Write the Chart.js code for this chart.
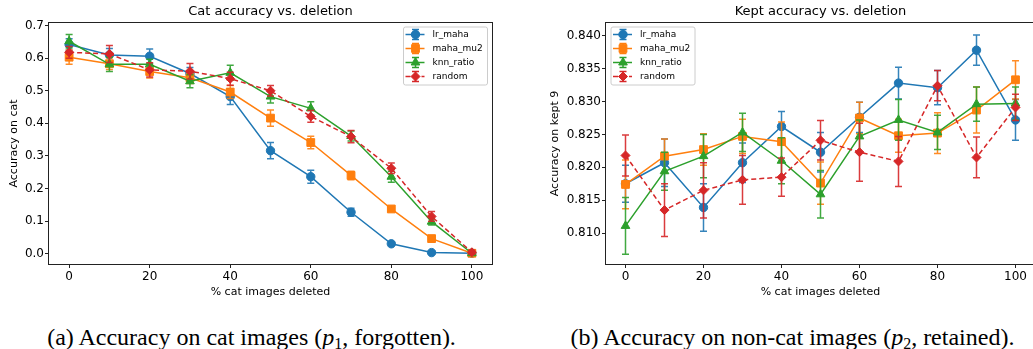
<!DOCTYPE html>
<html>
<head>
<meta charset="utf-8">
<script src="https://cdn.jsdelivr.net/npm/chart.js@4.4.0/dist/chart.umd.min.js"></script>
<style>
body{margin:0;width:1033px;height:349px;overflow:hidden;background:#fff;position:relative}
canvas{position:absolute;top:0}
#catChart{left:0}
#keptChart{left:540px}
.cap{position:absolute;top:325px;font-family:"Liberation Serif",serif;font-size:24px;line-height:24px;white-space:nowrap;transform:translateX(-50%);color:#000}
.cap sub{font-size:16px;vertical-align:-4px;line-height:0}
</style>
</head>
<body>
<canvas id="catChart" width="500" height="305"></canvas>
<canvas id="keptChart" width="495" height="305"></canvas>
<div class="cap" style="left:251.5px">(a) Accuracy on cat images (<i>p</i><sub>1</sub>, forgotten).</div>
<div class="cap" style="left:792.5px">(b) Accuracy on non-cat images (<i>p</i><sub>2</sub>, retained).</div>
<script>
// % of cat images deleted
const deleted = [0, 10, 20, 30, 40, 50, 60, 70, 80, 90, 100];
const xTicks = [0, 20, 40, 60, 80, 100];
const catTicks = [0.0, 0.1, 0.2, 0.3, 0.4, 0.5, 0.6, 0.7];
const keptTicks = [0.810, 0.815, 0.820, 0.825, 0.830, 0.835, 0.840];
const seriesNames = ["lr_maha", "maha_mu2", "knn_ratio", "random"];

// accuracy on cat (forgotten)
const catLrMaha = [0.642, 0.610, 0.606, 0.553, 0.482, 0.316, 0.236, 0.127, 0.030, 0.003, 0.001];
const catLrMahaErr = [0.018, 0.020, 0.022, 0.018, 0.024, 0.025, 0.020, 0.012, 0.005, 0.004, 0.004];
const catMahaMu2 = [0.603, 0.583, 0.559, 0.540, 0.496, 0.416, 0.341, 0.240, 0.137, 0.046, 0.001];
const catMahaMu2Err = [0.022, 0.018, 0.020, 0.018, 0.020, 0.025, 0.019, 0.013, 0.006, 0.008, 0.004];
const catKnnRatio = [0.652, 0.581, 0.581, 0.529, 0.555, 0.482, 0.446, 0.361, 0.236, 0.098, 0.001];
const catKnnRatioErr = [0.021, 0.022, 0.016, 0.020, 0.023, 0.020, 0.020, 0.015, 0.017, 0.010, 0.004];
const catRandom = [0.618, 0.613, 0.564, 0.560, 0.537, 0.500, 0.421, 0.359, 0.262, 0.114, 0.004];
const catRandomErr = [0.018, 0.026, 0.022, 0.024, 0.020, 0.016, 0.018, 0.019, 0.016, 0.015, 0.006];

// accuracy on kept 9 classes (retained)
const keptLrMaha = [0.8175, 0.8207, 0.8139, 0.8207, 0.8262, 0.8223, 0.8276, 0.8328, 0.8321, 0.8378, 0.8272];
const keptLrMahaErr = [0.0028, 0.0036, 0.0036, 0.0030, 0.0023, 0.0030, 0.0023, 0.0024, 0.0026, 0.0023, 0.0031];
const keptMahaMu2 = [0.8174, 0.8217, 0.8227, 0.8247, 0.8239, 0.8176, 0.8275, 0.8248, 0.8252, 0.8287, 0.8333];
const keptMahaMu2Err = [0.0037, 0.0026, 0.0024, 0.0026, 0.0030, 0.0032, 0.0024, 0.0025, 0.0031, 0.0035, 0.0029];
const keptKnnRatio = [0.8111, 0.8194, 0.8217, 0.8253, 0.8210, 0.8159, 0.8247, 0.8272, 0.8253, 0.8296, 0.8297];
const keptKnnRatioErr = [0.0043, 0.0029, 0.0033, 0.0029, 0.0035, 0.0036, 0.0025, 0.0031, 0.0026, 0.0026, 0.0025];
const keptRandom = [0.8218, 0.8135, 0.8165, 0.8181, 0.8185, 0.8241, 0.8223, 0.8209, 0.8324, 0.8215, 0.8291];
const keptRandomErr = [0.0031, 0.0040, 0.0042, 0.0037, 0.0029, 0.0030, 0.0044, 0.0038, 0.0023, 0.0031, 0.0020];

Chart.defaults.font.family = "'DejaVu Sans', sans-serif";
Chart.defaults.color = "#000";

const styles = [
  {color: "#1f77b4", pointStyle: "circle", radius: 4.2, dash: []},
  {color: "#ff7f0e", pointStyle: "rect", radius: 5.5, dash: []},
  {color: "#2ca02c", pointStyle: "triangle", radius: 5, dash: []},
  {color: "#d62728", pointStyle: "rectRot", radius: 4.5, dash: [5, 3]}
];

function makeSets(values, errors) {
  return values.map((vals, k) => ({
    label: seriesNames[k],
    data: deleted.map((x, i) => ({x: x, y: vals[i]})),
    errors: errors[k],
    borderColor: styles[k].color,
    backgroundColor: styles[k].color,
    borderWidth: 1.5,
    borderDash: styles[k].dash,
    pointStyle: styles[k].pointStyle,
    pointRadius: styles[k].radius,
    pointBorderWidth: 1,
    order: 3 - k,
    tension: 0,
    clip: false
  }));
}

// error bars under each series
const errorBars = {
  id: "errorBars",
  beforeDatasetDraw(chart, args) {
    const ds = chart.data.datasets[args.index];
    const xs = chart.scales.x, ys = chart.scales.y;
    const ctx = chart.ctx;
    ctx.save();
    ctx.strokeStyle = ds.borderColor;
    ctx.globalAlpha = 0.9;
    ctx.lineWidth = 1.5;
    ds.data.forEach((p, i) => {
      const px = xs.getPixelForValue(p.x);
      const top = ys.getPixelForValue(p.y + ds.errors[i]);
      const bot = ys.getPixelForValue(p.y - ds.errors[i]);
      ctx.beginPath();
      ctx.moveTo(px, top); ctx.lineTo(px, bot);
      ctx.moveTo(px - 3.5, top); ctx.lineTo(px + 3.5, top);
      ctx.moveTo(px - 3.5, bot); ctx.lineTo(px + 3.5, bot);
      ctx.stroke();
    });
    ctx.restore();
  }
};

// title, frame and legend box in matplotlib style
const deco = {
  id: "deco",
  afterDraw(chart, args, opts) {
    const ctx = chart.ctx;
    const a = chart.chartArea;
    ctx.save();
    ctx.strokeStyle = "#222";
    ctx.lineWidth = 1;
    ctx.strokeRect(Math.round(a.left) - 0.5, Math.round(a.top) - 0.5, a.right - a.left + 1, a.bottom - a.top + 1);
    ctx.fillStyle = "#000";
    ctx.font = "13px 'DejaVu Sans'";
    ctx.textAlign = "center";
    ctx.textBaseline = "middle";
    ctx.fillText(opts.title, (a.left + a.right) / 2, 12);

    const bw = 84, bh = 58;
    const bx = opts.legendRight ? a.right - 5 - bw : a.left + 4.5;
    const by = a.top + 3.5;
    ctx.beginPath();
    ctx.roundRect(bx + 0.5, by + 0.5, bw, bh, 2);
    ctx.fillStyle = "rgba(255,255,255,0.8)";
    ctx.fill();
    ctx.strokeStyle = "#ccc";
    ctx.stroke();
    ctx.font = "9px 'DejaVu Sans'";
    ctx.textAlign = "left";
    chart.data.datasets.forEach((ds, k) => {
      const y = by + 8 + 14 * k;
      const cx = bx + 12.5;
      ctx.strokeStyle = ds.borderColor;
      ctx.fillStyle = ds.borderColor;
      ctx.lineWidth = 1.5;
      ctx.setLineDash(ds.borderDash);
      ctx.beginPath();
      ctx.moveTo(bx + 2.5, y); ctx.lineTo(bx + 21.5, y);
      ctx.stroke();
      ctx.setLineDash([]);
      ctx.beginPath();
      ctx.moveTo(cx, y - 5); ctx.lineTo(cx, y + 5);
      ctx.moveTo(cx - 3.5, y - 5); ctx.lineTo(cx + 3.5, y - 5);
      ctx.moveTo(cx - 3.5, y + 5); ctx.lineTo(cx + 3.5, y + 5);
      ctx.stroke();
      ctx.lineWidth = 1;
      Chart.helpers.drawPoint(ctx, {pointStyle: ds.pointStyle, radius: ds.pointRadius, rotation: 0, borderWidth: 1}, cx, y);
      ctx.fillStyle = "#000";
      ctx.fillText(ds.label, bx + 29.5, y + 0.5);
    });
    ctx.restore();
  }
};

function makeChart(id, sets, opts) {
  return new Chart(document.getElementById(id), {
    type: "line",
    data: {datasets: sets},
    plugins: [errorBars, deco],
    options: {
      responsive: false,
      animation: false,
      devicePixelRatio: 1,
      layout: {autoPadding: false, padding: {top: 23, right: opts.padRight, left: 0, bottom: 0}},
      plugins: {
        legend: {display: false},
        tooltip: {enabled: false},
        deco: {title: opts.title, legendRight: opts.legendRight}
      },
      scales: {
        x: {
          type: "linear",
          min: -5,
          max: 105,
          afterBuildTicks: s => { s.ticks = xTicks.map(v => ({value: v})); },
          afterFit: s => { s.height = 41; s.paddingLeft = 0; s.paddingRight = 0; },
          ticks: {font: {size: 12}, padding: 2, maxRotation: 0, autoSkip: false, callback: v => String(v)},
          grid: {drawOnChartArea: false, tickLength: 4, color: "#222"},
          border: {display: false},
          title: {display: true, text: "% cat images deleted", font: {size: 11}, padding: {top: 0, bottom: 6}}
        },
        y: {
          type: "linear",
          min: opts.yMin,
          max: opts.yMax,
          afterBuildTicks: s => { s.ticks = opts.yTicks.map(v => ({value: v})); },
          afterFit: s => { s.width = opts.yWidth; s.paddingTop = 0; s.paddingBottom = 0; },
          ticks: {font: {size: 12}, padding: 1, callback: v => v.toFixed(opts.digits)},
          grid: {drawOnChartArea: false, tickLength: 4, color: "#222"},
          border: {display: false},
          title: {display: true, text: opts.yLabel, font: {size: 11}, padding: {top: opts.yTitlePad, bottom: 0}}
        }
      }
    }
  });
}

makeChart("catChart",
  makeSets([catLrMaha, catMahaMu2, catKnnRatio, catRandom], [catLrMahaErr, catMahaMu2Err, catKnnRatioErr, catRandomErr]),
  {title: "Cat accuracy vs. deletion", yLabel: "Accuracy on cat", yMin: -0.032, yMax: 0.708, yTicks: catTicks,
   digits: 1, yWidth: 49, yTitlePad: 7.4, padRight: 8, legendRight: true});

makeChart("keptChart",
  makeSets([keptLrMaha, keptMahaMu2, keptKnnRatio, keptRandom], [keptLrMahaErr, keptMahaMu2Err, keptKnnRatioErr, keptRandomErr]),
  {title: "Kept accuracy vs. deletion", yLabel: "Accuracy on kept 9", yMin: 0.80531, yMax: 0.84193, yTicks: keptTicks,
   digits: 3, yWidth: 66, yTitlePad: 8.4, padRight: 0, legendRight: false});
</script>
</body>
</html>
